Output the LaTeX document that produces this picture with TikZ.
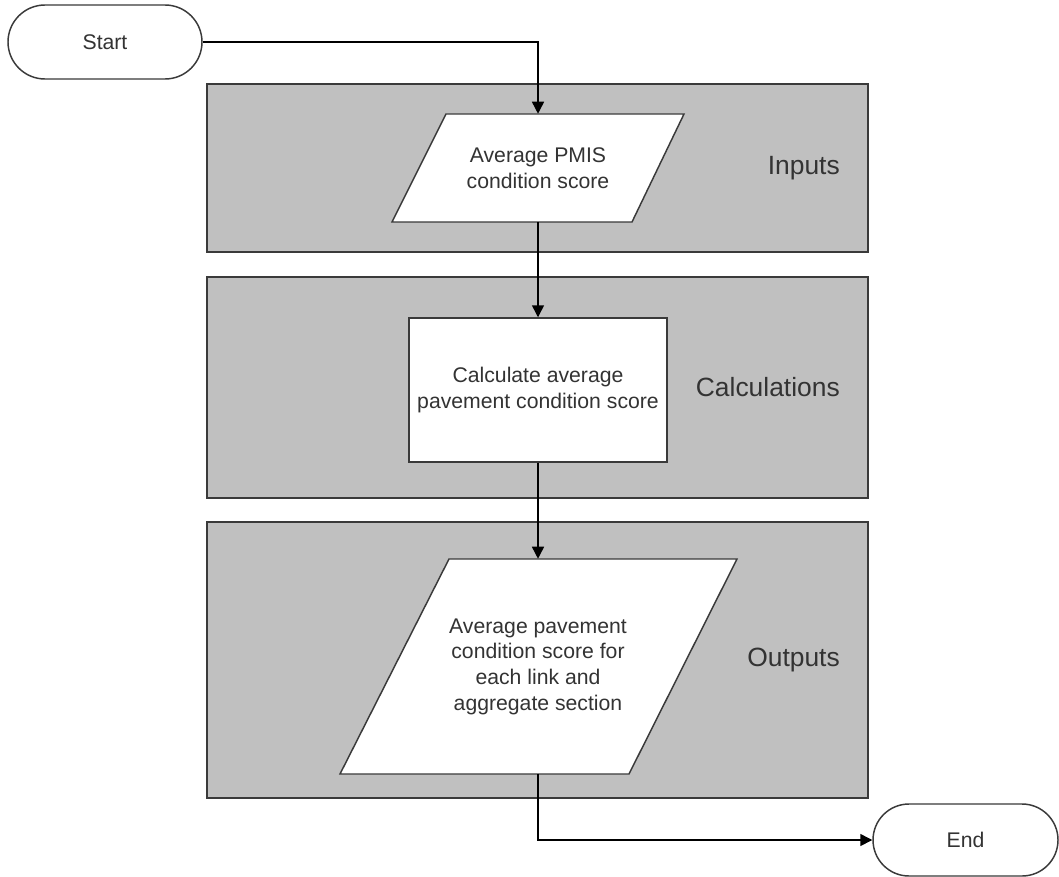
\documentclass[tikz,border=0pt]{standalone}
\usepackage{fontspec}
\setmainfont{Liberation Sans}
\usetikzlibrary{arrows.meta,shapes.misc}
\definecolor{panelgray}{HTML}{C0C0C0}
\definecolor{edgegray}{HTML}{3A3A3A}
\definecolor{textgray}{HTML}{333333}
\begin{document}
\begin{tikzpicture}[x=0.75pt,y=-0.75pt,
  panel/.style={fill=panelgray,draw=edgegray,line width=1.3pt},
  flow/.style={fill=white,draw=edgegray,line width=1.1pt},
  term/.style={rounded rectangle,draw=edgegray,fill=white,line width=1.1pt,inner sep=0pt},
  txt/.style={font=\fontsize{15.9}{19.2}\selectfont,align=center,text=textgray,inner sep=0pt},
  lab/.style={font=\fontsize{19.8}{23}\selectfont,text=textgray,anchor=east,inner sep=0pt},
  conn/.style={draw=black,line width=1.1pt,-{Triangle[length=9pt,width=9pt]}}
]
\useasboundingbox[fill=white] (0,0) rectangle (1059,877);

% panels
\draw[panel] (207,84) rectangle (868,252);
\draw[panel] (207,277) rectangle (868,498);
\draw[panel] (207,522) rectangle (868,798);

% labels
\node[lab] (labin) at (840,168) {Inputs};
\node[lab] (labcalc) at (840,387) {Calculations};
\node[lab] (labout) at (840,660) {Outputs};

% terminals
\node[term,txt,minimum width=145.5pt,minimum height=55.5pt] (start) at (105,42) {Start};
\node[term,txt,minimum width=138.75pt,minimum height=54pt] (end) at (965.5,840) {End};

% input parallelogram
\draw[flow] (446,114) -- (684,114) -- (632,222) -- (392,222) -- cycle;
\node[txt,minimum height=81pt] (in) at (538,168) {Average PMIS\\condition score};

% calculation box
\node[flow,txt,minimum width=193.5pt,minimum height=108pt] (calc) at (538,390) {Calculate average\\pavement condition score};

% output parallelogram
\draw[flow] (449,559) -- (737,559) -- (629,774) -- (340,774) -- cycle;
\node[txt,minimum height=161.25pt] (out) at (538,666.5) {Average pavement\\condition score for\\each link and\\aggregate section};

% connectors
\draw[conn] (start.east) -| (in.north);
\draw[conn] (in.south) -- (calc.north);
\draw[conn] (calc.south) -- (out.north);
\draw[conn] (out.south) |- (end.west);
\end{tikzpicture}
\end{document}
